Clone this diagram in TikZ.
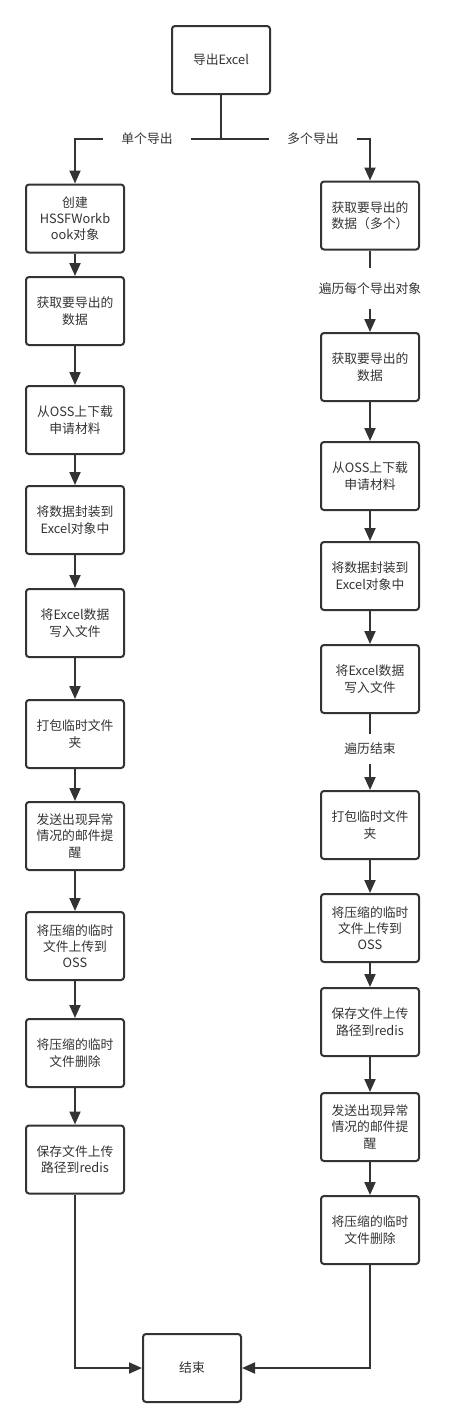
\documentclass[tikz,border=0pt]{standalone}
\usepackage{fontspec}
\setmainfont{Noto Sans CJK SC}
\usepackage{xcolor}
\usetikzlibrary{arrows.meta}
\definecolor{ink}{HTML}{333333}

\tikzset{
	box/.style={draw=ink, line width=2pt, rounded corners=3pt, minimum width=98pt, minimum height=68pt, inner sep=0pt, align=center, text=ink},
	lbl/.style={text=ink, inner xsep=18pt, inner ysep=2pt},
	link/.style={draw=ink, line width=2pt},
	arr/.style={link, -{Triangle[length=13pt, width=11pt]}},
}

\begin{document}
\begin{tikzpicture}[x=1pt, y=-1pt]
	\fontsize{12.8pt}{16.3pt}\selectfont
	\useasboundingbox (0,0) rectangle (471,1428);

	% start and split
	\node[box] (start) at (221,60) {导出Excel};
	\coordinate (fork) at (221,139);
	\node[lbl] (single) at (147,139) {单个导出};
	\node[lbl] (multi) at (313,139) {多个导出};

	% single export
	\foreach \name/\y/\txt in {
		l1/218.5/{创建\\HSSFWorkb\\ook对象},
		l2/311/{获取要导出的\\数据},
		l3/420/{从OSS上下载\\申请材料},
		l4/520/{将数据封装到\\Excel对象中},
		l5/623/{将Excel数据\\写入文件},
		l6/734/{打包临时文件\\夹},
		l7/836/{发送出现异常\\情况的邮件提\\醒},
		l8/946/{将压缩的临时\\文件上传到\\OSS},
		l9/1053/{将压缩的临时\\文件删除},
		l10/1159.5/{保存文件上传\\路径到redis}}{
		\node[box] (\name) at (75,\y) {\txt};
	}

	% multiple export
	\foreach \name/\y/\txt in {
		r1/215.5/{获取要导出的\\数据（多个）},
		r2/367/{获取要导出的\\数据},
		r3/476/{从OSS上下载\\申请材料},
		r4/576/{将数据封装到\\Excel对象中},
		r5/679/{将Excel数据\\写入文件},
		r6/825/{打包临时文件\\夹},
		r7/928/{将压缩的临时\\文件上传到\\OSS},
		r8/1022/{保存文件上传\\路径到redis},
		r9/1127/{发送出现异常\\情况的邮件提\\醒},
		r10/1230/{将压缩的临时\\文件删除}}{
		\node[box] (\name) at (370,\y) {\txt};
	}
	\node[lbl, inner ysep=14pt] (loop) at (370,288.5) {遍历每个导出对象};
	\node[lbl, inner ysep=9pt] (done) at (370,749) {遍历结束};

	% end
	\node[box] (finish) at (192,1368) {结束};

	% connectors
	\draw[link] (start.south) -- (fork) -- (single);
	\draw[arr] (single) -| (l1);
	\draw[link] (fork) -- (multi);
	\draw[arr] (multi) -| (r1);

	\foreach[evaluate=\i as \j using int(\i+1)] \i in {1,...,9}{
		\draw[arr] (l\i) -- (l\j);
	}

	\draw[link] (r1) -- (loop);
	\draw[arr] (loop) -- (r2);
	\foreach[evaluate=\i as \j using int(\i+1)] \i in {2,3,4}{
		\draw[arr] (r\i) -- (r\j);
	}
	\draw[link] (r5) -- (done);
	\draw[arr] (done) -- (r6);
	\foreach[evaluate=\i as \j using int(\i+1)] \i in {6,...,9}{
		\draw[arr] (r\i) -- (r\j);
	}

	\draw[arr] (l10) |- (finish);
	\draw[arr] (r10) |- (finish);
\end{tikzpicture}
\end{document}
